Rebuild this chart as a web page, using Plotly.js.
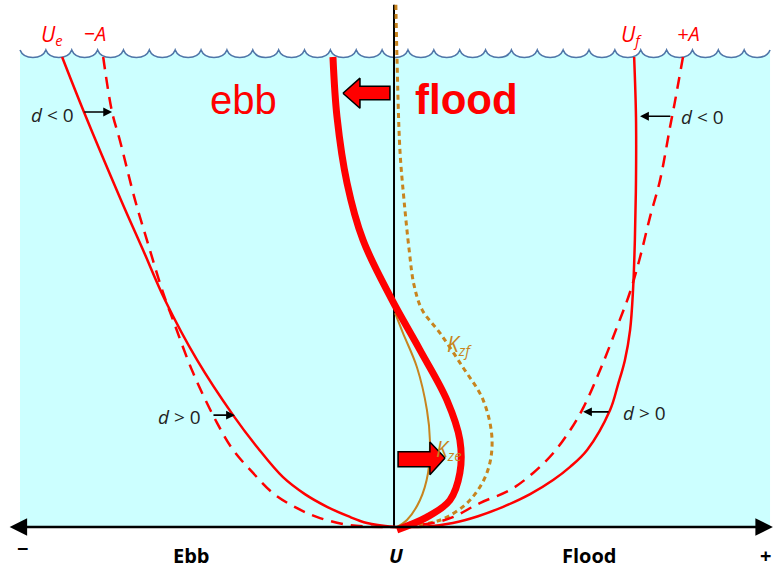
<!DOCTYPE html>
<html>
<head>
<meta charset="utf-8">
<script src="https://cdn.plot.ly/plotly-3.0.1.min.js"></script>
<style>body{margin:0;background:#fff}#graph-tide{width:775px;height:568px}</style>
</head>
<body>
<div id="graph-tide"></div>
<script>
// U = velocity (neg = ebb, pos = flood), z = height above bed (1 = surface)

let ebb_u = [-0.897, -0.838, -0.738, -0.678, -0.619, -0.532, -0.435, -0.368, -0.300, -0.241, -0.181, -0.124, -0.073, 0]
let ebb_z = [1.0, 0.883, 0.696, 0.589, 0.483, 0.355, 0.238, 0.168, 0.106, 0.070, 0.043, 0.023, 0.0085, 0]

let ebb_a_u = [-0.786, -0.762, -0.741, -0.700, -0.668, -0.624, -0.597, -0.543, -0.478, -0.435, -0.381, -0.327, -0.262, -0.200, -0.119, -0.030, 0]
let ebb_a_z = [1.0, 0.883, 0.823, 0.696, 0.611, 0.498, 0.440, 0.328, 0.221, 0.164, 0.115, 0.072, 0.040, 0.019, 0.004, 0, 0]

let flood_u = [0.649, 0.654, 0.654, 0.651, 0.646, 0.638, 0.624, 0.605, 0.584, 0.522, 0.476, 0.430, 0.368, 0.295, 0.227, 0.159, 0.089, 0]
let flood_z = [1.0, 0.872, 0.738, 0.611, 0.504, 0.419, 0.355, 0.302, 0.249, 0.164, 0.128, 0.100, 0.070, 0.043, 0.023, 0.0085, 0.001, 0]

let flood_a_u = [0.781, 0.759, 0.746, 0.719, 0.692, 0.665, 0.638, 0.603, 0.557, 0.511, 0.476, 0.430, 0.376, 0.314, 0.232, 0.159, 0.105, 0]
let flood_a_z = [1.0, 0.904, 0.851, 0.738, 0.660, 0.574, 0.500, 0.426, 0.334, 0.253, 0.206, 0.157, 0.115, 0.079, 0.051, 0.021, 0.0085, 0]

let resid_u = [-0.165, -0.154, -0.127, -0.084, -0.008, 0.070, 0.143, 0.178, 0.178, 0.151, 0.089, 0.008]
let resid_z = [1.0, 0.872, 0.732, 0.611, 0.487, 0.377, 0.270, 0.185, 0.115, 0.057, 0.021, -0.006]

let kzf_u = [0.005, 0.008, 0.016, 0.027, 0.041, 0.054, 0.076, 0.124, 0.186, 0.241, 0.265, 0.251, 0.205, 0.143, 0.097, 0.016]
let kzf_z = [1.111, 1.0, 0.802, 0.696, 0.589, 0.515, 0.462, 0.413, 0.340, 0.270, 0.185, 0.115, 0.057, 0.021, 0.0085, 0]

let kze_u = [0.003, 0.024, 0.062, 0.089, 0.097, 0.092, 0.070, 0.035, 0.003]
let kze_z = [0.455, 0.413, 0.340, 0.249, 0.185, 0.115, 0.057, 0.015, -0.002]

// block arrows (outline)
let arrow_left_u = [-0.138, -0.092, -0.092, -0.011, -0.011, -0.092, -0.092, -0.138]
let arrow_left_z = [0.923, 0.955, 0.938, 0.938, 0.909, 0.909, 0.891, 0.923]
let arrow_right_u = [0.138, 0.097, 0.097, 0.011, 0.011, 0.097, 0.097, 0.138]
let arrow_right_z = [0.147, 0.181, 0.160, 0.160, 0.128, 0.128, 0.111, 0.147]

let red = '#ff0000'
let brown = '#c8841e'
let sm = 1

let trace_axis_v = {x: [0, 0], y: [0, 1.111], mode: 'lines', line: {color: 'black', width: 2}}
let trace_kzf = {x: kzf_u, y: kzf_z, mode: 'lines', line: {color: brown, width: 3, dash: '5px,4px', shape: 'spline', smoothing: sm}}
let trace_kze = {x: kze_u, y: kze_z, mode: 'lines', line: {color: brown, width: 2, shape: 'spline', smoothing: sm}}
let trace_ebb = {x: ebb_u, y: ebb_z, mode: 'lines', line: {color: red, width: 2.5, shape: 'spline', smoothing: sm}}
let trace_ebb_a = {x: ebb_a_u, y: ebb_a_z, mode: 'lines', line: {color: red, width: 2.5, dash: '12px,8px', shape: 'spline', smoothing: sm}}
let trace_flood = {x: flood_u, y: flood_z, mode: 'lines', line: {color: red, width: 2.5, shape: 'spline', smoothing: sm}}
let trace_flood_a = {x: flood_a_u, y: flood_a_z, mode: 'lines', line: {color: red, width: 2.5, dash: '12px,8px', shape: 'spline', smoothing: sm}}
let trace_resid = {x: resid_u, y: resid_z, mode: 'lines', line: {color: red, width: 7, shape: 'spline', smoothing: sm}}
let trace_arrow_l = {x: arrow_left_u, y: arrow_left_z, mode: 'lines', fill: 'toself', fillcolor: red, line: {color: 'black', width: 1.5}}
let trace_arrow_r = {x: arrow_right_u, y: arrow_right_z, mode: 'lines', fill: 'toself', fillcolor: red, line: {color: 'black', width: 1.5}}

let data = [trace_axis_v, trace_kzf, trace_kze, trace_ebb, trace_ebb_a, trace_flood, trace_flood_a, trace_resid, trace_arrow_l, trace_arrow_r]

// water surface (scallops)
let n_waves = 29
let wave_x0 = -1.0108
let wave_w = 0.0699
let wave_top = 1.015
let wave_dip = 0.016
let wave_path = ''
let fill_path = 'M ' + wave_x0 + ',' + wave_top
for (let i = 0; i < n_waves; i++) {
    let a = wave_x0 + i * wave_w
    let b = a + wave_w
    let lo = wave_top - wave_dip * 1.33
    let seg = ' C ' + (a + wave_w * 0.15) + ',' + lo + ' ' + (a + wave_w * 0.85) + ',' + lo + ' ' + b + ',' + wave_top
    wave_path += (i === 0 ? 'M ' + a + ',' + wave_top : '') + seg
    fill_path += seg
}
let wave_end = wave_x0 + n_waves * wave_w
fill_path += ' L ' + wave_end + ',0 L ' + wave_x0 + ',0 Z'

let txt = (text, x, y, size, color, family) => ({
    text: text, x: x, y: y, xref: 'x', yref: 'y', showarrow: false,
    xanchor: 'center', yanchor: 'middle',
    font: {family: family || 'Open Sans', size: size, color: color}
})

let arr = (x, y, ax, ay) => ({
    text: '', x: x, y: y, ax: ax, ay: ay, xref: 'x', yref: 'y', axref: 'x', ayref: 'y',
    showarrow: true, arrowhead: 2, arrowsize: 1.1, arrowwidth: 1.6, arrowcolor: 'black'
})

let annotations = [
    txt('<i>U<sub>e</sub></i>', -0.924, 1.047, 21, red),
    txt('<i>−A</i>', -0.808, 1.051, 20, red),
    txt('<i>U<sub>f</sub></i>', 0.641, 1.047, 21, red),
    txt('<i>+A</i>', 0.795, 1.051, 20, red),
    txt('ebb', -0.408, 0.909, 40, red, 'Liberation Sans'),
    txt('<b>flood</b>', 0.195, 0.909, 42, red, 'Liberation Sans'),
    txt('<i>d</i> &lt; 0', -0.924, 0.877, 19, '#222'),
    txt('<i>d</i> &lt; 0', 0.835, 0.872, 19, '#222'),
    txt('<i>d</i> &gt; 0', -0.581, 0.234, 19, '#222'),
    txt('<i>d</i> &gt; 0', 0.676, 0.243, 19, '#222'),
    txt('<i>K<sub>zf</sub></i>', 0.178, 0.387, 21, brown),
    txt('<i>K<sub>ze</sub></i>', 0.148, 0.164, 21, brown),
    txt('<b>−</b>', -1.005, -0.045, 20, 'black'),
    txt('<b>Ebb</b>', -0.546, -0.060, 20, 'black'),
    txt('<b><i>U</i></b>', 0.005, -0.060, 20, 'black'),
    txt('<b>Flood</b>', 0.527, -0.060, 20, 'black'),
    txt('<b>+</b>', 1.003, -0.060, 20, 'black'),
    arr(-0.762, 0.883, -0.841, 0.883),
    arr(0.665, 0.874, 0.751, 0.874),
    arr(-0.430, 0.238, -0.492, 0.238),
    arr(0.511, 0.245, 0.584, 0.245),
    // horizontal U axis, arrow both ways
    Object.assign(arr(1.024, 0, -1.043, 0), {arrowside: 'end+start', arrowwidth: 2.5, arrowsize: 1.4})
]

var layout = {
    width: 775,
    height: 568,
    margin: {l: 0, r: 0, t: 0, b: 0},
    showlegend: false,
    paper_bgcolor: 'white',
    plot_bgcolor: 'white',
    xaxis: {range: [-1.0649, 1.0297], visible: false, fixedrange: true},
    yaxis: {range: [-0.0872, 1.1213], visible: false, fixedrange: true},
    shapes: [
        {type: 'path', path: fill_path, xref: 'x', yref: 'y', fillcolor: '#ccffff', line: {width: 0}, layer: 'below'},
        {type: 'path', path: wave_path, xref: 'x', yref: 'y', line: {color: '#4f76a8', width: 1.6}, layer: 'below'}
    ],
    annotations: annotations
}

let config = {displayModeBar: false, staticPlot: true}

Plotly.newPlot('graph-tide', data, layout, config)
</script>
</body>
</html>
